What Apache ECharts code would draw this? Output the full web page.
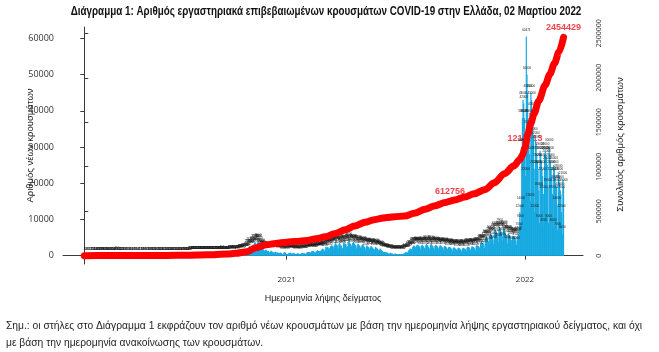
<!DOCTYPE html>
<html><head><meta charset="utf-8">
<script src="https://cdn.jsdelivr.net/npm/echarts@6/dist/echarts.min.js"></script>
<style>html,body{margin:0;padding:0;background:#fff}#c{width:659px;height:352px}</style>
</head><body><div id="c"></div>
<script>
// ---- DATA ----
const startDate = '2020-02-26';
const cases2020 = [
1,2,0,4,
2,3,0,3,2,12,7,7,15,26,11,11,9,14,29,27,66,42,22,38,35,57,78,43,59,86,90,72,94,74,82,
70,58,95,60,62,55,70,80,75,60,54,42,36,25,55,150,30,22,24,20,15,12,25,17,20,10,12,15,9,6,
8,12,10,15,5,8,6,10,12,9,14,7,9,11,8,6,10,12,6,4,3,11,7,8,16,19,9,10,20,8,5,
15,9,3,12,25,97,16,10,8,18,12,15,20,8,9,10,14,15,18,15,12,20,16,10,8,14,22,11,13,6,
18,16,14,20,15,22,25,30,38,30,41,20,19,22,31,25,34,33,20,41,23,43,27,40,34,28,39,75,58,71,55,
110,81,110,121,124,151,150,168,203,150,262,191,262,204,230,217,160,269,174,221,185,189,232,284,217,199,208,293,172,168,169,
220,234,268,299,171,190,174,201,221,260,372,207,200,287,186,203,302,343,283,346,216,318,310,451,341,284,209,301,280,280,
300,411,372,313,312,484,550,440,548,516,318,319,507,585,616,505,406,456,580,548,713,881,882,865,935,680,771,1200,1203,1212,1190,
1500,1300,2100,2200,2646,1900,2100,1900,2200,2700,3000,2800,3500,3700,2900,2600,3600,3900,3500,3100,2200,1700,2400,2300,2000,1800,1600,1300,1500,1700,
1500,1300,1400,1300,1100,900,1100,1400,1200,1100,1000,900,700,1000,1100,900,800,900,800,600,700,900,800,700,500,400,600,900,1000,800,600
];
const cases2021 = [
500,400,500,700,800,700,800,700,500,600,700,800,600,500,400,500,600,700,600,550,500,400,600,700,800,700,700,650,500,550,700,
900,1000,1000,1050,1000,900,800,1200,1300,1200,1300,1100,900,800,1200,1300,1500,1400,1300,1300,1000,1300,1600,1700,1900,1700,1800,1100,
1500,2500,2300,2200,2400,2000,1500,2100,2600,2700,2900,2700,2600,2000,2800,3300,3500,3100,3000,2700,2000,3200,3500,3100,2600,2800,2100,1900,3400,3600,3200,
3300,3100,2500,2500,3800,4100,3700,3400,3300,2800,2300,3500,3700,3600,3300,3000,2600,2000,2900,3300,3200,2900,2700,2300,1900,2800,3100,3000,2800,2400,
2200,1500,2600,2800,2600,2400,2100,1800,2300,2600,2500,2300,2100,1800,1500,1900,2400,2200,2100,1900,1700,1300,1600,2000,1800,1600,1400,1200,1000,900,1000,
1100,1000,900,800,700,600,500,700,800,700,650,550,400,350,500,600,550,500,450,400,300,450,500,450,500,450,400,350,550,700,
800,900,1000,900,800,1200,1500,1700,2000,1900,1800,1600,2400,2700,2800,2700,2500,2000,2800,3000,2900,2800,2600,2300,1800,2700,2900,3000,2700,2500,2100,
1700,2900,3200,3000,2800,2500,2100,1800,2900,3200,3100,2800,2600,2200,1700,2700,3000,2900,2700,2500,2200,1800,2600,2900,2800,2600,2400,2100,1700,2500,2700,
2600,2400,2200,1900,1500,2300,2500,2400,2200,2000,1800,1300,2100,2300,2200,2000,1900,1600,1200,2000,2200,2100,2000,1800,1500,1100,1900,2200,2100,2000,
1900,1700,1200,2200,2500,2400,2300,2100,1800,1300,2300,2600,2500,2400,2200,1900,1400,2600,2900,2800,2700,2600,2300,1700,3300,3700,3600,3500,3300,2900,2200,
4200,4800,5000,4800,4600,4000,3000,5500,6000,5800,5600,5200,4500,3300,6500,7100,6900,6600,6200,5300,3800,7200,7900,7300,6900,6500,5600,4100,7200,7500,
6500,6200,5800,5000,3400,6000,6100,5700,5400,5000,4300,3100,5400,5500,5200,4900,4700,4100,3000,5200,5600,5800,7000,12000,9000,14000,30000,38000,43000,42000,38000
];
const cases2022 = [
30000,22000,60471,50000,45000,35000,38000,28000,15000,45000,43000,40000,37000,33000,24000,12000,32000,31000,28000,26000,24000,18000,9000,29000,28000,26000,24000,22000,17000,8000,28000,
29000,28000,27000,25000,19000,9000,30000,28000,26000,24000,22000,17000,8000,25000,24000,22000,20000,19000,14000,7000,23000,22000,20000,18000,17000,12000,6000,21000,
19000
];
const cumDates = ['2020-02-26','2020-04-01','2020-05-01','2020-06-01','2020-07-01','2020-08-01','2020-09-01','2020-10-01','2020-10-15','2020-11-01','2020-11-15','2020-12-01','2020-12-15',
'2021-01-01','2021-01-15','2021-02-01','2021-02-15','2021-03-01','2021-03-15','2021-04-01','2021-04-15','2021-05-01','2021-05-15','2021-06-01','2021-06-15','2021-07-01','2021-07-15','2021-08-01','2021-08-15','2021-09-01','2021-09-08','2021-09-15','2021-10-01','2021-10-15','2021-11-01','2021-11-15','2021-12-01','2021-12-15','2021-12-24','2021-12-28',
'2022-01-01','2022-01-05','2022-01-10','2022-01-15','2022-01-22','2022-02-01','2022-02-08','2022-02-15','2022-02-22','2022-03-01'];
const cumValues = [0,1400,2600,2950,3450,4600,10300,19000,27000,45000,88000,122000,138000,
152000,160000,172000,190000,212000,246000,292000,333000,376000,405000,428000,437000,447000,476000,521000,559000,597000,612756,627000,660000,695000,745000,820000,925000,1010000,1080000,1130000,
1213313,1360000,1490000,1600000,1740000,1920000,2040000,2160000,2290000,2454429];
const labeledDates = ['2021-09-08','2022-01-01','2022-03-01'];
const xTickDates = ['2021-01-01','2022-01-01'];
const xTickLabels = ['2021','2022'];
const leftTicks = [0,10000,20000,30000,40000,50000,60000];
const rightTicks = [0,500000,1000000,1500000,2000000,2500000];
const texts = {
  title: 'Διάγραμμα 1: Αριθμός εργαστηριακά επιβεβαιωμένων κρουσμάτων COVID-19 στην Ελλάδα, 02 Μαρτίου 2022',
  yLeft: 'Αριθμός νέων κρουσμάτων',
  yRight: 'Συνολικός αριθμός κρουσμάτων',
  x: 'Ημερομηνία λήψης δείγματος',
  note1: 'Σημ.: οι στήλες στο Διάγραμμα 1 εκφράζουν τον αριθμό νέων κρουσμάτων με βάση την ημερομηνία λήψης εργαστηριακού δείγματος, και όχι',
  note2: 'με βάση την ημερομηνία ανακοίνωσης των κρουσμάτων.'
};
// ---- BUILD ----
const t0 = Date.parse(startDate + 'T00:00:00Z');
const dayIdx = s => Math.round((Date.parse(s + 'T00:00:00Z') - t0) / 86400000);
const daily = cases2020.concat(cases2021, cases2022);
const barData = daily.map((v, i) => [i, v]);
const cumData = cumDates.map((d, i) => [dayIdx(d), cumValues[i]]);
const labData = labeledDates.map(d => cumData[cumDates.indexOf(d)]);
const xTicks = xTickDates.map(dayIdx);
const X_MIN = -32.6, X_MAX = 763.8;
const LEFT_MIN = -2291, LEFT_MAX = 63121;
const SANS = '"Liberation Sans", Arial, sans-serif';
const AX = '#3a3a3a';
const chart = echarts.init(document.getElementById('c'), null, {renderer: 'canvas'});
chart.setOption({
  animation: false,
  backgroundColor: '#fff',
  textStyle: {fontFamily: SANS},
  graphic: [
    {type: 'text', x: 326, y: 12, scaleX: 0.82, style: {text: texts.title, font: 'bold 12px ' + SANS, fill: '#111', align: 'center', verticalAlign: 'middle'}},
    {type: 'text', x: 6, y: 326, scaleX: 0.935, style: {text: texts.note1, font: '11px ' + SANS, fill: '#1e1e1e', align: 'left', verticalAlign: 'middle'}},
    {type: 'text', x: 6, y: 343, scaleX: 0.935, style: {text: texts.note2, font: '11px ' + SANS, fill: '#1e1e1e', align: 'left', verticalAlign: 'middle'}}
  ],
  grid: [
    {left: 63, right: 76, top: 27, bottom: 88},
    {left: 63, right: 76, top: 33.3, bottom: 96.3}
  ],
  xAxis: [
    {type: 'value', gridIndex: 0, min: X_MIN, max: X_MAX, position: 'bottom',
     axisLine: {show: true, lineStyle: {color: AX}},
     axisTick: {show: true, customValues: xTicks, length: 4, lineStyle: {color: AX}},
     axisLabel: {customValues: xTicks, formatter: v => xTickLabels[xTicks.indexOf(v)] || '', fontSize: 8, color: '#333', margin: 12, fontFamily: 'Open Sans'},
     splitLine: {show: false},
     name: texts.x, nameLocation: 'middle', nameGap: 30, nameMoveOverlap: false, nameTextStyle: {fontSize: 9, color: '#222'}},
    {type: 'value', gridIndex: 1, min: X_MIN, max: X_MAX, show: false}
  ],
  yAxis: [
    {type: 'value', gridIndex: 0, min: LEFT_MIN, max: LEFT_MAX, position: 'left',
     axisLine: {show: true, lineStyle: {color: AX}},
     axisTick: {show: true, customValues: leftTicks, length: 4, lineStyle: {color: AX}},
     axisLabel: {customValues: leftTicks, formatter: v => String(v), fontSize: 9, color: '#333', margin: 9, fontFamily: 'Open Sans'},
     splitLine: {show: false},
     name: texts.yLeft, nameLocation: 'middle', nameGap: 28, nameMoveOverlap: false, nameTextStyle: {fontSize: 9.5, color: '#222'}},
    {type: 'value', gridIndex: 1, min: 0, max: 2500000, position: 'right',
     axisLine: {show: true, lineStyle: {color: AX}},
     axisTick: {show: true, customValues: rightTicks, length: 4, lineStyle: {color: AX}},
     axisLabel: {customValues: rightTicks, formatter: v => String(v), rotate: 90, fontSize: 7, color: '#333', margin: 12, fontFamily: 'Open Sans'},
     splitLine: {show: false},
     name: texts.yRight, nameLocation: 'middle', nameGap: 32, nameMoveOverlap: false, nameTextStyle: {fontSize: 9.5, color: '#222'}}
  ],
  series: [
    {type: 'bar', xAxisIndex: 0, yAxisIndex: 0, data: barData, barWidth: 1.2, z: 2,
     itemStyle: {color: '#16A9E1'},
     label: {show: true, position: 'top', distance: 5, fontSize: 3, color: '#1a1a1a', fontFamily: 'Liberation Sans', formatter: p => String(p.value[1])}},
    {type: 'scatter', xAxisIndex: 1, yAxisIndex: 1, data: labData, symbolSize: 0, z: 1,
     label: {show: true, position: 'top', distance: 5, fontSize: 9, fontWeight: 'bold', color: '#E8141B', fontFamily: SANS, formatter: p => String(p.value[1])}},
    {type: 'line', xAxisIndex: 1, yAxisIndex: 1, data: cumData, showSymbol: false, symbol: 'none', clip: false, z: 3,
     smooth: 0.3, smoothMonotone: 'x',
     lineStyle: {color: '#FF0000', width: 7, cap: 'round', join: 'round'}}
  ]
});
</script></body></html>
